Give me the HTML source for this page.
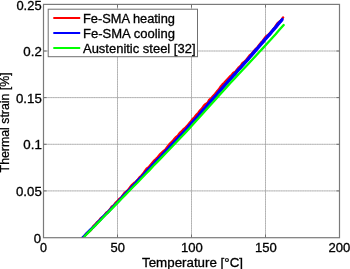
<!DOCTYPE html>
<html><head><meta charset="utf-8">
<style>
html,body{margin:0;padding:0;background:#fff;}
svg{display:block}
text{font-family:"Liberation Sans",Arial,Helvetica,sans-serif;fill:#000;stroke:#000;stroke-width:0.3px;}
</style></head>
<body>
<svg width="350" height="269" viewBox="0 0 350 269">
<rect width="350" height="269" fill="#fff"/>
<defs><clipPath id="ax"><rect x="43.5" y="4.5" width="296" height="233.2"/></clipPath></defs>
<!-- grid -->
<g stroke="#acacac" stroke-width="0.75" fill="none">
<line x1="117.5" y1="4.5" x2="117.5" y2="237.5"/>
<line x1="191.5" y1="4.5" x2="191.5" y2="237.5"/>
<line x1="265.5" y1="4.5" x2="265.5" y2="237.5"/>
<line x1="43.5" y1="51" x2="339.5" y2="51"/>
<line x1="43.5" y1="97.6" x2="339.5" y2="97.6"/>
<line x1="43.5" y1="144.3" x2="339.5" y2="144.3"/>
<line x1="43.5" y1="190.9" x2="339.5" y2="190.9"/>
</g>
<g stroke="#808080" stroke-opacity="0.35" stroke-width="0.75" stroke-dasharray="1.1 1.3" fill="none">
<line x1="117.5" y1="4.5" x2="117.5" y2="237.5"/>
<line x1="191.5" y1="4.5" x2="191.5" y2="237.5"/>
<line x1="265.5" y1="4.5" x2="265.5" y2="237.5"/>
<line x1="43.5" y1="51" x2="339.5" y2="51"/>
<line x1="43.5" y1="97.6" x2="339.5" y2="97.6"/>
<line x1="43.5" y1="144.3" x2="339.5" y2="144.3"/>
<line x1="43.5" y1="190.9" x2="339.5" y2="190.9"/>
</g>
<!-- data -->
<g fill="none" stroke-width="2.4" stroke-linecap="round" stroke-linejoin="round" clip-path="url(#ax)">
<path d="M82.4,238.0 L84.2,236.4 L86.1,233.9 L87.9,232.4 L89.8,231.1 L91.6,229.2 L93.4,226.1 L95.3,224.3 L97.1,222.2 L99.0,220.8 L100.8,218.3 L102.7,217.0 L104.5,215.3 L106.3,212.8 L108.2,211.4 L110.0,209.4 L111.9,206.5 L113.7,205.4 L115.5,202.9 L117.4,201.2 L119.2,199.0 L121.1,197.6 L122.9,195.2 L124.7,192.8 L126.6,191.4 L128.4,189.7 L130.3,187.0 L132.1,184.8 L134.0,183.1 L135.8,181.9 L137.6,179.9 L139.5,177.4 L141.3,175.8 L143.2,173.6 L145.0,170.9 L146.8,168.5 L148.7,167.3 L150.5,165.1 L152.4,162.8 L154.2,160.6 L156.1,158.9 L157.9,157.0 L159.7,154.7 L161.6,152.8 L163.4,151.1 L165.3,149.7 L167.1,147.3 L168.9,144.9 L170.8,142.9 L172.6,141.2 L174.5,138.8 L176.3,136.8 L178.1,135.3 L180.0,132.7 L181.8,131.3 L183.7,129.1 L185.5,127.6 L187.4,125.6 L189.2,123.4 L191.0,121.3 L192.9,118.8 L194.7,117.1 L196.6,114.6 L198.4,112.8 L200.2,110.3 L202.1,108.4 L203.9,105.7 L205.8,103.9 L207.6,102.8 L209.4,99.6 L211.3,98.2 L213.1,96.0 L215.0,94.0 L216.8,91.6 L218.7,89.6 L220.5,86.8 L222.3,84.7 L224.2,82.8 L226.0,80.8 L227.9,78.7 L229.7,76.7 L231.5,75.3 L233.4,72.8 L235.2,71.9 L237.1,69.5 L238.9,67.3 L240.8,65.6 L242.6,62.9 L244.4,61.8 L246.3,59.7 L248.1,57.5 L250.0,55.1 L251.8,53.6 L253.6,51.4 L255.5,49.2 L257.3,47.5 L259.2,45.0 L261.0,42.6 L262.8,40.8 L264.7,38.1 L266.5,36.0 L268.4,34.8 L270.2,32.7 L272.1,30.9 L273.9,28.6 L275.7,26.0 L277.6,23.2 L279.4,21.7 L281.3,20.2 L283.1,17.4" stroke="#f00" stroke-width="2.4"/>
<path d="M82.4,238.0 L84.6,235.7 L86.9,233.3 L89.1,231.0 L91.4,228.7 L93.6,226.9 L95.9,224.5 L98.1,221.9 L100.4,219.8 L102.6,217.2 L104.8,215.0 L107.1,213.0 L109.3,210.7 L111.6,208.2 L113.8,205.8 L116.1,203.7 L118.3,201.5 L120.6,198.8 L122.8,196.2 L125.1,193.9 L127.3,191.5 L129.5,189.7 L131.8,187.0 L134.0,184.8 L136.3,182.0 L138.5,179.7 L140.8,177.6 L143.0,175.3 L145.3,172.6 L147.5,170.0 L149.7,168.1 L152.0,165.3 L154.2,163.2 L156.5,160.5 L158.7,158.4 L161.0,156.2 L163.2,153.7 L165.5,151.1 L167.7,149.0 L170.0,146.2 L172.2,143.9 L174.4,141.6 L176.7,139.5 L178.9,136.6 L181.2,134.6 L183.4,132.1 L185.7,129.8 L187.9,127.0 L190.2,124.4 L192.4,121.9 L194.6,119.7 L196.9,117.3 L199.1,114.5 L201.4,111.9 L203.6,109.2 L205.9,106.9 L208.1,104.3 L210.4,101.3 L212.6,98.8 L214.9,96.6 L217.1,94.0 L219.3,91.1 L221.6,88.5 L223.8,86.1 L226.1,83.6 L228.3,80.8 L230.6,78.7 L232.8,76.0 L235.1,73.7 L237.3,70.8 L239.5,68.8 L241.8,66.1 L244.0,63.3 L246.3,61.1 L248.5,58.4 L250.8,55.9 L253.0,52.9 L255.3,50.3 L257.5,48.1 L259.8,45.3 L262.0,42.8 L264.2,40.0 L266.5,37.9 L268.7,35.0 L271.0,32.6 L273.2,29.5 L275.5,27.1 L277.7,24.2 L280.0,22.1 L282.2,19.2" stroke="#00f" stroke-width="2.7"/>
<path d="M200.6,113.3 L202.7,110.7 L204.8,108.5 L206.9,105.9 L208.9,103.6 L211.0,101.3 L213.1,98.9 L215.2,96.5 L217.3,94.1 L219.4,91.6 L221.5,89.4 L223.6,86.8 L225.6,84.5 L227.7,82.4 L229.8,79.8 L231.9,77.5 L234.0,75.1 L236.1,72.9 L238.2,70.3 L240.3,68.0 L242.3,65.8 L244.4,63.4 L246.5,61.2 L248.6,58.9 L250.7,56.4 L252.8,54.0 L254.9,51.5 L257.0,49.0 L259.0,46.7 L261.1,44.3 L263.2,42.0 L265.3,39.3 L267.4,37.0 L269.5,34.8 L271.6,32.1 L273.7,29.7 L275.7,27.5 L277.8,24.8 L279.9,22.3 L282.0,20.0" stroke="#00f" stroke-width="3"/>
<path d="M84.4,236.5 L88.5,232.4 L92.5,228.3 L96.6,224.1 L100.7,220.0 L104.7,215.8 L108.8,211.7 L112.9,207.6 L116.9,203.4 L121.0,199.3 L125.1,195.1 L129.1,191.0 L133.2,186.8 L137.3,182.7 L141.3,178.5 L145.4,174.3 L149.5,170.1 L153.5,165.8 L157.6,161.6 L161.7,157.4 L165.7,153.2 L169.8,149.0 L173.9,144.8 L177.9,140.5 L182.0,136.2 L186.1,131.9 L190.2,127.5 L194.2,123.1 L198.3,118.6 L202.4,114.1 L206.4,109.6 L210.5,105.0 L214.6,100.5 L218.6,95.9 L222.7,91.5 L226.8,87.0 L230.8,82.6 L234.9,78.2 L239.0,73.8 L243.0,69.5 L247.1,65.2 L251.2,60.8 L255.2,56.4 L259.3,52.0 L263.4,47.6 L267.4,43.2 L271.5,38.7 L275.6,34.2 L279.6,29.6 L283.7,25.0" stroke="#0f0" stroke-width="2.3"/>
</g>
<!-- axes box -->
<rect x="43.5" y="4.4" width="296" height="233.3" fill="none" stroke="#7a7a7a" stroke-width="1.2"/>
<!-- ticks -->
<g stroke="#707070" stroke-width="1">
<line x1="117.5" y1="237.5" x2="117.5" y2="234.5"/>
<line x1="191.5" y1="237.5" x2="191.5" y2="234.5"/>
<line x1="265.5" y1="237.5" x2="265.5" y2="234.5"/>
<line x1="117.5" y1="4.5" x2="117.5" y2="7.5"/>
<line x1="191.5" y1="4.5" x2="191.5" y2="7.5"/>
<line x1="265.5" y1="4.5" x2="265.5" y2="7.5"/>
<line x1="43.5" y1="51" x2="46.5" y2="51"/>
<line x1="43.5" y1="97.6" x2="46.5" y2="97.6"/>
<line x1="43.5" y1="144.3" x2="46.5" y2="144.3"/>
<line x1="43.5" y1="190.9" x2="46.5" y2="190.9"/>
<line x1="339.5" y1="51" x2="336.5" y2="51"/>
<line x1="339.5" y1="97.6" x2="336.5" y2="97.6"/>
<line x1="339.5" y1="144.3" x2="336.5" y2="144.3"/>
<line x1="339.5" y1="190.9" x2="336.5" y2="190.9"/>
</g>
<!-- legend -->
<rect x="48.2" y="9.2" width="149.3" height="47.5" fill="#fff" stroke="#707070" stroke-width="1"/>
<g stroke-width="2" fill="none">
<line x1="53.3" y1="18" x2="80.2" y2="18" stroke="#f00"/>
<line x1="53.3" y1="33" x2="80.2" y2="33" stroke="#00f"/>
<line x1="53.3" y1="48" x2="80.2" y2="48" stroke="#0f0"/>
</g>
<g font-size="12.5">
<text x="83" y="22.5" textLength="92" lengthAdjust="spacingAndGlyphs">Fe-SMA heating</text>
<text x="83" y="37.5" textLength="92" lengthAdjust="spacingAndGlyphs">Fe-SMA cooling</text>
<text x="83" y="52.5" textLength="112.5" lengthAdjust="spacingAndGlyphs">Austenitic steel [32]</text>
</g>
<!-- tick labels -->
<g font-size="12.5" text-anchor="end">
<text x="41.6" y="9.9" textLength="25.2" lengthAdjust="spacingAndGlyphs">0.25</text>
<text x="41.8" y="55.9" textLength="18.5" lengthAdjust="spacingAndGlyphs">0.2</text>
<text x="41.8" y="102.6" textLength="25.8" lengthAdjust="spacingAndGlyphs">0.15</text>
<text x="41.8" y="149.2" textLength="18.5" lengthAdjust="spacingAndGlyphs">0.1</text>
<text x="41.8" y="195.8" textLength="25.8" lengthAdjust="spacingAndGlyphs">0.05</text>
<text x="41.0" y="242.6" textLength="7.3" lengthAdjust="spacingAndGlyphs">0</text>
</g>
<g font-size="12.5" text-anchor="middle">
<text x="43.5" y="252.4">0</text>
<text x="117.8" y="252.4" textLength="14.4" lengthAdjust="spacingAndGlyphs">50</text>
<text x="192" y="252.4" textLength="21.8" lengthAdjust="spacingAndGlyphs">100</text>
<text x="266" y="252.4" textLength="21.8" lengthAdjust="spacingAndGlyphs">150</text>
<text x="339.4" y="252.4" textLength="21.8" lengthAdjust="spacingAndGlyphs">200</text>
</g>
<text x="142" y="266.8" font-size="12.5" textLength="101" lengthAdjust="spacingAndGlyphs">Temperature [°C]</text>
<text transform="translate(9.2,172.4) rotate(-90)" font-size="12.5" textLength="100" lengthAdjust="spacingAndGlyphs">Thermal strain [%]</text>
</svg>
</body></html>
